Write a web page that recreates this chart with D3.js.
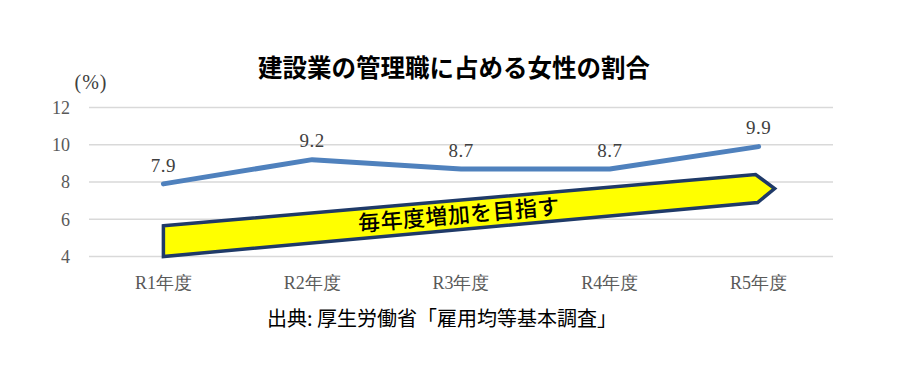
<!DOCTYPE html>
<html>
<head>
<meta charset="utf-8">
<script src="https://cdn.jsdelivr.net/npm/d3@7"></script>
<style>
  body { margin: 0; background: #fff; }
  svg { display: block; }
</style>
</head>
<body>
<div id="chart"></div>
<script>
// data
const years = ["R1年度", "R2年度", "R3年度", "R4年度", "R5年度"]
const share = [7.9, 9.2, 8.7, 8.7, 9.9]
const yTicks = [4, 6, 8, 10, 12]

// the yellow "goal" arrow, in data units (start -> end)
const arrowCats = ["R1年度", "R5年度"]
const arrowLow = [4.0, 6.9]
const arrowHigh = [5.65, 8.4]
const arrowText = "毎年度増加を目指す"

const title = "建設業の管理職に占める女性の割合"
const source = "出典: 厚生労働省「雇用均等基本調査」"

const W = 902, H = 380
const plotLeft = 89, plotRight = 833, plotTop = 107.5, plotBottom = 256.5
const serif = "Liberation Serif, DejaVu Serif, serif"
const sans = "Noto Sans CJK JP, sans-serif"

const svg = d3.select("#chart").append("svg")
  .attr("width", W)
  .attr("height", H)

svg.append("rect").attr("width", W).attr("height", H).attr("fill", "#fff")

const x = d3.scaleBand().domain(years).range([plotLeft, plotRight])
const y = d3.scaleLinear().domain([4, 12]).range([plotBottom, plotTop])
const cx = d => x(d) + x.bandwidth() / 2

// gridlines
svg.append("g")
  .selectAll("line")
  .data(yTicks)
  .join("line")
    .attr("x1", plotLeft)
    .attr("x2", plotRight)
    .attr("y1", d => y(d))
    .attr("y2", d => y(d))
    .attr("stroke", "#d9d9d9")
    .attr("stroke-width", 1.5)

// y axis labels
svg.append("g")
  .selectAll("text")
  .data(yTicks)
  .join("text")
    .attr("x", 70)
    .attr("y", d => y(d))
    .attr("dy", "0.35em")
    .attr("text-anchor", "end")
    .attr("font-family", serif)
    .attr("font-size", 18)
    .attr("fill", "#595959")
    .text(d => d)

svg.append("text")
  .attr("x", 91)
  .attr("y", 82)
  .attr("dy", "0.35em")
  .attr("text-anchor", "middle")
  .attr("font-family", serif)
  .attr("font-size", 20)
  .attr("letter-spacing", 1)
  .attr("fill", "#404040")
  .text("(%)")

// x axis labels
svg.append("g")
  .selectAll("text")
  .data(years)
  .join("text")
    .attr("x", d => cx(d))
    .attr("y", 283)
    .attr("dy", "0.35em")
    .attr("text-anchor", "middle")
    .attr("font-family", serif)
    .attr("font-size", 18)
    .attr("fill", "#595959")
    .text(d => d)

// arrow
const x0 = cx(arrowCats[0]), x1 = cx(arrowCats[1])
const tipX = x1 + 16
const pts = [
  [x0, y(arrowHigh[0])],
  [x1 - 3, y(arrowHigh[1])],
  [tipX, (y(arrowHigh[1]) + y(arrowLow[1])) / 2],
  [x1 - 1, y(arrowLow[1])],
  [x0, y(arrowLow[0])]
]
svg.append("path")
  .attr("d", d3.line()(pts) + "Z")
  .attr("fill", "#ffff00")
  .attr("stroke", "#1f3a68")
  .attr("stroke-width", 3.5)
  .attr("stroke-linejoin", "miter")

const angle = Math.atan2(pts[1][1] - pts[0][1], pts[1][0] - pts[0][0]) * 180 / Math.PI
const midX = cx("R3年度") - 2
const t = (midX - x0) / (x1 - x0)
const midY = ((y(arrowHigh[0]) + y(arrowLow[0])) / 2) * (1 - t) + ((y(arrowHigh[1]) + y(arrowLow[1])) / 2) * t

svg.append("text")
  .attr("transform", `translate(${midX},${midY}) rotate(${angle})`)
  .attr("dy", "0.35em")
  .attr("text-anchor", "middle")
  .attr("font-family", sans)
  .attr("font-size", 22)
  .attr("font-weight", 500)
  .attr("letter-spacing", 0.5)
  .attr("fill", "#000")
  .text(arrowText)

// the line
const data = years.map((d, i) => ({year: d, value: share[i]}))

svg.append("path")
  .datum(data)
  .attr("fill", "none")
  .attr("stroke", "#4f81bd")
  .attr("stroke-width", 5)
  .attr("stroke-linecap", "round")
  .attr("stroke-linejoin", "round")
  .attr("d", d3.line().x(d => cx(d.year)).y(d => y(d.value)))

svg.append("g")
  .selectAll("text")
  .data(data)
  .join("text")
    .attr("x", d => cx(d.year))
    .attr("y", d => y(d.value) - 19)
    .attr("dy", "0.35em")
    .attr("text-anchor", "middle")
    .attr("font-family", serif)
    .attr("font-size", 19)
    .attr("letter-spacing", 0.5)
    .attr("fill", "#404040")
    .text(d => d.value.toFixed(1))

// title + source
svg.append("text")
  .attr("x", 454)
  .attr("y", 68)
  .attr("dy", "0.35em")
  .attr("text-anchor", "middle")
  .attr("font-family", sans)
  .attr("font-size", 24.5)
  .attr("font-weight", "bold")
  .attr("fill", "#000")
  .text(title)

svg.append("text")
  .attr("x", 442)
  .attr("y", 319)
  .attr("dy", "0.35em")
  .attr("text-anchor", "middle")
  .attr("font-family", sans)
  .attr("font-size", 20)
  .attr("fill", "#000")
  .text(source)
</script>
</body>
</html>
